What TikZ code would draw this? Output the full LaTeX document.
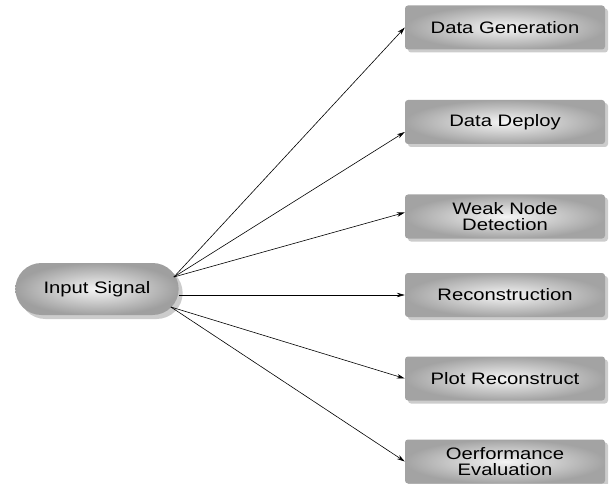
\documentclass[tikz,border=0pt]{standalone}
\usepackage{fontspec}
\usepackage{tikz}
\usetikzlibrary{arrows.meta,shapes.misc,shadows}
\newfontfamily\labelfont[FakeStretch=1.22]{Liberation Sans}

\begin{document}
\begin{tikzpicture} [x=1pt,y=-1pt,
       task/.style={rectangle,rounded corners=3pt,minimum width=200pt,minimum height=44pt,
         inner color=gray!8,outer color=gray!72,align=center,
         font=\labelfont\fontsize{16.6}{16.5}\selectfont,
         drop shadow={shadow xshift=3pt,shadow yshift=-3pt,fill=gray!40,opacity=1}},
       source/.style={rounded rectangle,minimum width=170pt,minimum height=52pt,
         inner color=gray!8,outer color=gray!75,
         font=\labelfont\fontsize{16.6}{16.5}\selectfont,
         drop shadow={shadow xshift=4pt,shadow yshift=-4pt,fill=gray!40,opacity=1}},
       feed/.style={-{Stealth[length=8pt,width=4.5pt]},semithick}]
       \useasboundingbox (0,0) rectangle (611,484);
       \node [source] (in) at (97,289) {Input Signal};
       \node [task] (gen)   at (505,27.5)  {Data Generation};
       \node [task] (dep)   at (505,122)   {Data Deploy};
       \node [task] (weak)  at (505,216.5) {Weak Node\\Detection};
       \node [task] (rec)   at (505,295)   {Reconstruction};
       \node [task] (plot)  at (505,378.5) {Plot Reconstruct};
       \node [task] (perf)  at (505,461.5) {Oerformance\\Evaluation};
       % fan of arrows out of the signal
       \coordinate (up) at ([xshift=-5pt,yshift=12pt]in.east);
       \coordinate (down) at ([xshift=-8pt,yshift=-18pt]in.east);
       \draw [feed] (up) -- (gen.west);
       \draw [feed] (up) -- ([yshift=-10pt]dep.west);
       \draw [feed] (up) -- ([yshift=4pt]weak.west);
       \draw [feed] (in.east |- rec.west) -- (rec.west);
       \draw [feed] (down) -- (plot.west);
       \draw [feed] (down) -- (perf.west);
    \end{tikzpicture}
\end{document}
